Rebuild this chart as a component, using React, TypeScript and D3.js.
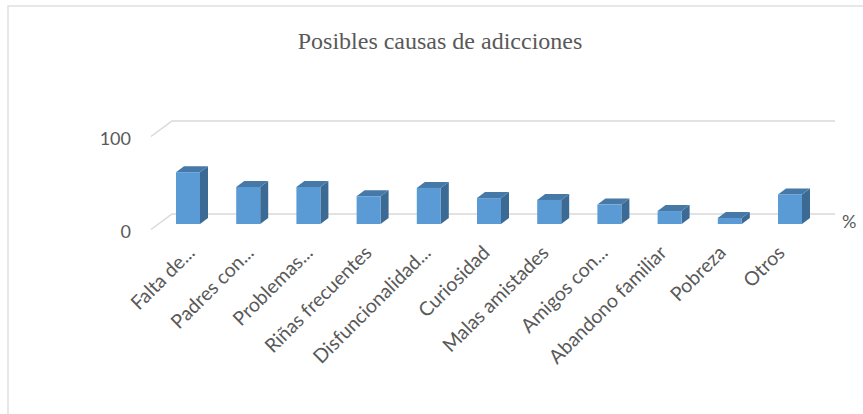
import React from "react";
import * as d3 from "d3";

const categories = [
  "Falta de...",
  "Padres con...",
  "Problemas...",
  "Riñas frecuentes",
  "Disfuncionalidad...",
  "Curiosidad",
  "Malas amistades",
  "Amigos con...",
  "Abandono familiar",
  "Pobreza",
  "Otros",
];
const values = [56, 40, 40, 30, 39, 28, 26, 21, 14, 6.5, 32];
const yTicks = [0, 100];
const title = "Posibles causas de adicciones";
const axisUnit = "%";

const W = 863;
const H = 414;

export default function App() {
  const xBar = d3.scalePoint<string>().domain(categories).range([188, 790]);
  const xLabel = d3.scalePoint<string>().domain(categories).range([196, 786]);
  const yBack = d3.scaleLinear().domain([0, 100]).range([214, 121]);
  const yFront = d3.scaleLinear().domain([0, 100]).range([224, 131.5]);
  const barW = 24;
  const dx = 8;
  const dy = -6;
  const wallLeft = 172;
  const wallRight = 835;
  const sideDx = -21;
  const sideDy = 15.5;
  const grid = "#d9d9d9";
  const text = "#595959";

  return (
    <svg
      width={W}
      height={H}
      style={{ position: "absolute", left: 0, top: 0, background: "#fff" }}
    >
      <rect x={8} y={6} width={900} height={500} fill="#fff" stroke="#e0e0e0" strokeWidth={1.5} />
      <text
        x={440}
        y={49}
        textAnchor="middle"
        fontFamily="'Liberation Serif', 'Times New Roman', serif"
        fontSize={24}
        fill={text}
      >
        {title}
      </text>
      {yTicks.map((t) => (
        <g key={t}>
          <polyline
            points={`${wallLeft + sideDx},${yBack(t) + sideDy} ${wallLeft},${yBack(t)} ${wallRight},${yBack(t)}`}
            fill="none"
            stroke={grid}
            strokeWidth={1.5}
          />
          <text
            x={131}
            y={yBack(t) + 24}
            textAnchor="end"
            fontFamily="Lato, sans-serif"
            fontSize={18}
            fill={text}
          >
            {t}
          </text>
        </g>
      ))}
      <text x={842} y={228} fontFamily="Lato, sans-serif" fontSize={18} fill={text}>
        {axisUnit}
      </text>
      {categories.map((c, i) => {
        const x0 = (xBar(c) as number) - barW / 2;
        const yb = yFront(0);
        const yt = yFront(values[i]);
        const x1 = x0 + barW;
        return (
          <g key={c}>
            <polygon
              points={`${x1},${yt} ${x1 + dx},${yt + dy} ${x1 + dx},${yb + dy} ${x1},${yb}`}
              fill="#3b6a94"
            />
            <polygon
              points={`${x0},${yt} ${x0 + dx},${yt + dy} ${x1 + dx},${yt + dy} ${x1},${yt}`}
              fill="#4679a8"
            />
            <rect x={x0} y={yt} width={barW} height={yb - yt} fill="#5b9bd5" />
          </g>
        );
      })}
      {categories.map((c) => (
        <text
          key={c}
          transform={`translate(${xLabel(c)},254) rotate(-45)`}
          textAnchor="end"
          fontFamily="Lato, sans-serif"
          fontSize={19.5}
          fill={text}
        >
          {c}
        </text>
      ))}
    </svg>
  );
}
